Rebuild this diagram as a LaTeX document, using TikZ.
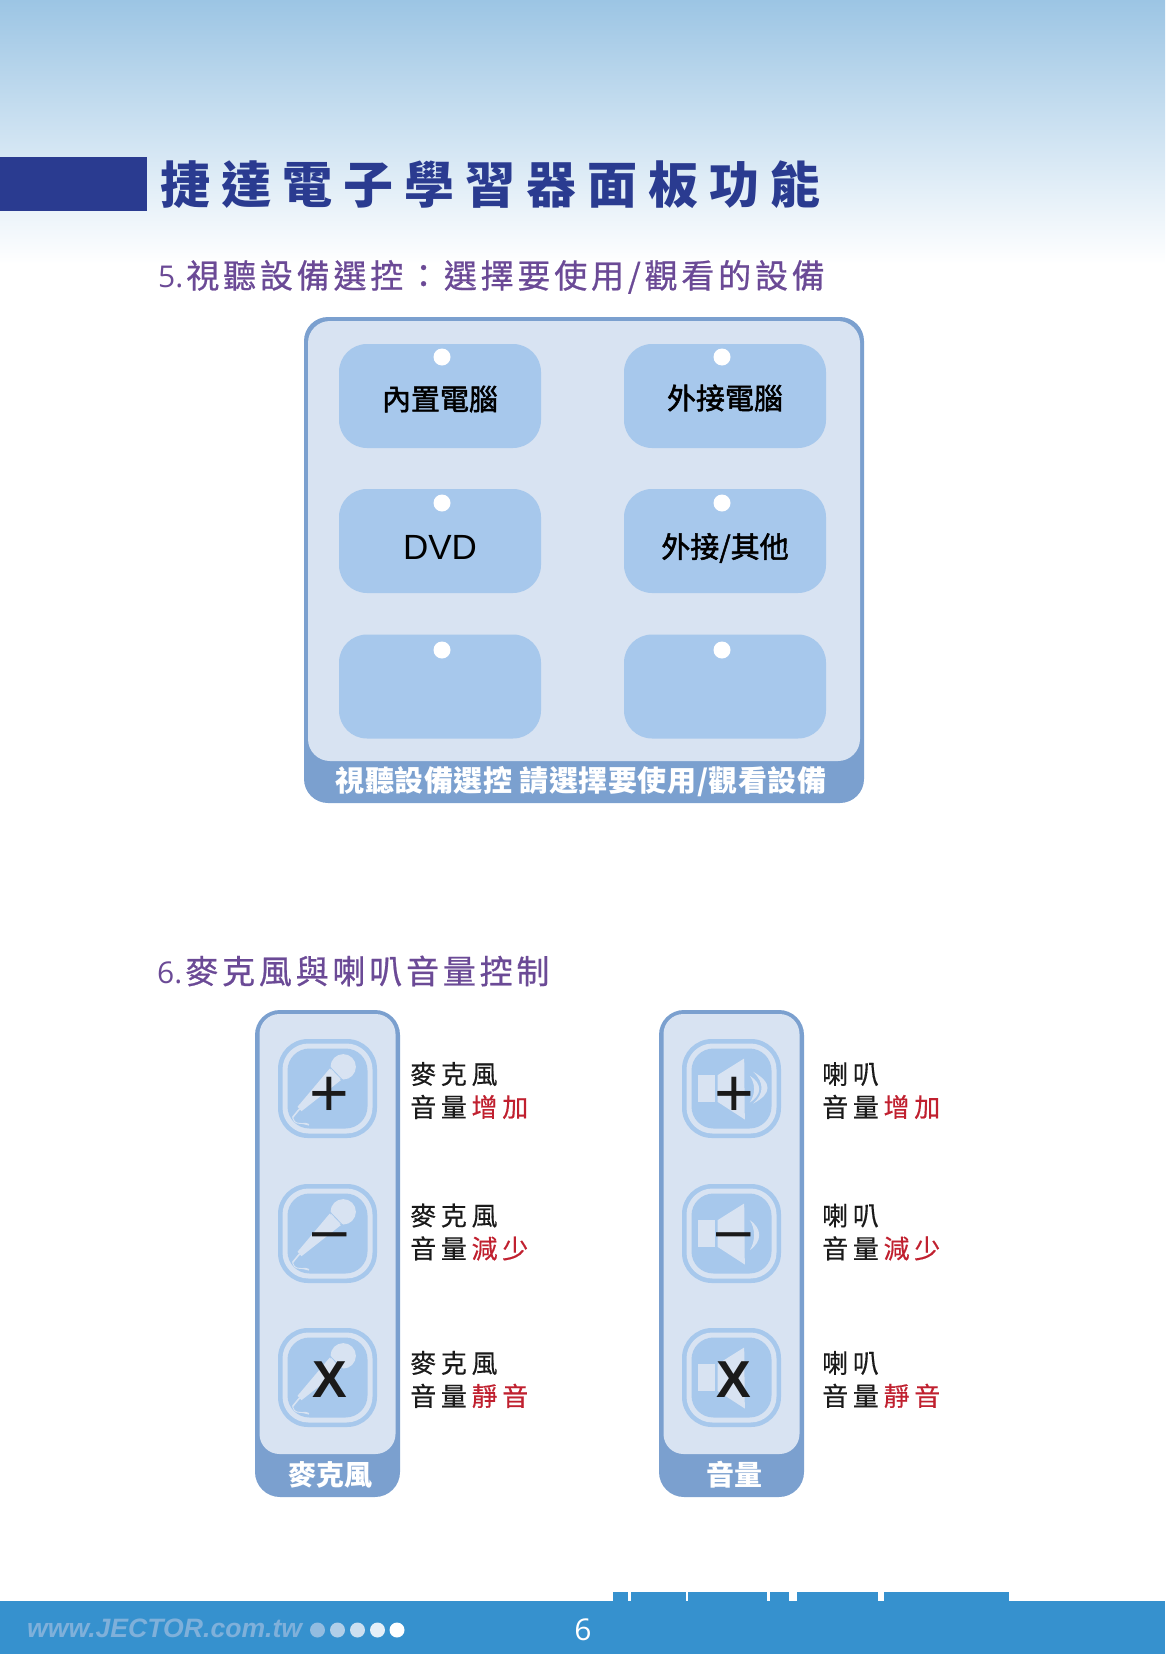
\documentclass[tikz,border=0pt]{standalone}
\usepackage{fontspec}
\setmainfont{Liberation Sans}
\newfontfamily\cjk{Noto Sans CJK TC}
\newfontfamily\latinsym{Open Sans}
\definecolor{skytop}{HTML}{9CC5E4}
\definecolor{barblue}{HTML}{2A3B90}
\definecolor{headpurple}{HTML}{6B4A96}
\definecolor{rimblue}{HTML}{7BA0CF}
\definecolor{paleblue}{HTML}{D8E3F2}
\definecolor{btnblue}{HTML}{A7C8EC}
\definecolor{footblue}{HTML}{3691CE}
\definecolor{urlblue}{HTML}{7FB0DA}
\definecolor{redword}{HTML}{C0202F}
\definecolor{inkblack}{HTML}{1A1A1A}

\tikzset{
  panelbtn/.style={fill=btnblue, rounded corners=28, minimum width=202, minimum height=104, inner sep=0},
  btntext/.style={text=black, inner sep=0, font=\cjk\fontsize{29}{29}\selectfont\addfontfeature{FakeBold=1.8}},
  btndot/.style={fill=white, circle, minimum size=17, inner sep=0},
  rimtext/.style={text=white, inner sep=0, font=\cjk\bfseries\fontsize{28}{28}\selectfont},
  heading/.style={text=headpurple, anchor=west, inner sep=0, font=\cjk\fontsize{33}{33}\selectfont\addfontfeature{LetterSpace=11.5,FakeBold=0.7}},
  sidetext/.style={text=inkblack, anchor=west, inner sep=0, align=left, font=\cjk\fontsize{26}{33}\selectfont\addfontfeature{LetterSpace=18,FakeBold=0.4}},
  pale/.style={fill=paleblue},
  signtext/.style={text=inkblack, inner sep=0}
}

% number in front of a heading
\newcommand{\headnum}[1]{{\latinsym\fontsize{30}{30}\selectfont #1}\kern3pt}
% icon frame: three nested squares
\newcommand{\iconframe}{
  \fill[btnblue, rounded corners=30] (-49.5,-49.5) rectangle (49.5,49.5);
  \fill[paleblue, rounded corners=26] (-45,-45) rectangle (45,45);
  \fill[btnblue, rounded corners=22] (-40,-40) rectangle (40,40);
}
\newcommand{\micicon}{
  \fill[pale] (15.7,-21.7) circle (12.7);
  \fill[pale] (2.3,-20) -- (13.3,-8.3) -- (-26,22.7) -- (-30,18.3) -- cycle;
  \draw[btnblue, line width=0.8] (2.5,-21.5) -- (15,-8.5);
  \draw[paleblue, line width=1.6] (-28,20.5) -- (-35,29);
  \draw[paleblue, line width=0.9] (-35,29) -- (-33,33) .. controls (-30,36) and (-26,34) .. (-21,36) .. controls (-17,38) and (-18,34) .. (-25,35);
}
\newcommand{\spkicon}{
  \fill[pale] (-34,-13.3) rectangle (-16.7,13.3);
  \fill[pale] (-14,-13.3) -- (12.7,-30) -- (13.3,31) -- (-14,13.3) -- cycle;
}

\begin{document}
\begin{tikzpicture}[x=1pt,y=-1pt]
  \useasboundingbox (0,0) rectangle (1165,1654);

  % top of the page
  \shade[top color=skytop, bottom color=white] (0,0) rectangle (1165,264);
  \fill[barblue] (0,157) rectangle (147,211);
  \node[text=barblue, anchor=west, inner sep=0, font=\cjk\bfseries\fontsize{50}{50}\selectfont\addfontfeature{LetterSpace=22.1}] (title) at (160,185) {捷達電子學習器面板功能};
  \node[heading] (headfive) at (158,277) {\headnum{5.}視聽設備選控：選擇要使用/觀看的設備};

  % source panel
  \fill[rimblue, rounded corners=24] (304,317) rectangle (864,803);
  \fill[paleblue, rounded corners=22] (308,321) rectangle (860,761);
  \node[panelbtn] (btnpc) at (440,396) {};
  \node[panelbtn] (btnext) at (725,396) {};
  \node[panelbtn] (btndvd) at (440,541) {};
  \node[panelbtn] (btnother) at (725,541) {};
  \node[panelbtn] (btnfive) at (440,686.5) {};
  \node[panelbtn] (btnsix) at (725,686.5) {};
  \foreach \x in {442,722}
    \foreach \y in {357,503,650}
      \node[btndot] at (\x,\y) {};
  \node[btntext] (txtpc) at (440,399) {內置電腦};
  \node[btntext] (txtext) at (725,398) {外接電腦};
  \node[text=black, inner sep=0, font=\fontsize{35}{35}\selectfont] (txtdvd) at (440,547) {DVD};
  \node[btntext] (txtother) at (725,548) {外接/其他};
  \node[rimtext, font=\cjk\bfseries\fontsize{29}{29}\selectfont\addfontfeature{LetterSpace=2}] (paneltext) at (581,782) {視聽設備選控 請選擇要使用/觀看設備};

  \node[heading] (headsix) at (157,971) {\headnum{6.}麥克風與喇叭音量控制};

  % the two columns
  \foreach \x/\txt in {327.5/麥克風,731.5/音量}{
    \fill[rimblue, rounded corners=25] (\x-72.5,1010) rectangle (\x+72.5,1497);
    \fill[paleblue, rounded corners=20] (\x-68,1014) rectangle (\x+68,1454);
    \node[rimtext] at (\x+3,1475) {\txt};
  }

  \foreach \y in {1088.5,1233.5,1377.5}{
    \begin{scope}[shift={(327.5,\y)}]
      \iconframe
      \micicon
    \end{scope}
    \begin{scope}[shift={(731.5,\y)}]
      \iconframe
      \spkicon
    \end{scope}
  }

  % sound waves on the speaker icons
  \begin{scope}[shift={(731.5,1088.5)}]
    \fill[pale] (21.7,-16.7) .. controls (40.8,-6) and (40.8,5) .. (21.7,15) .. controls (32.8,5) and (32.8,-6) .. (21.7,-16.7) -- cycle;
    \fill[pale] (18.3,-12.7) .. controls (30.8,-5) and (30.8,6) .. (18.3,14) .. controls (24,6) and (24,-5) .. (18.3,-12.7) -- cycle;
  \end{scope}
  \begin{scope}[shift={(731.5,1233.5)}]
    \fill[pale] (18.3,-13.3) .. controls (30.8,-5) and (30.8,8) .. (18.3,16.7) .. controls (24,8) and (24,-5) .. (18.3,-13.3) -- cycle;
  \end{scope}

  % signs
  \foreach \x in {329.5,734}{
    \node[signtext, font=\fontsize{68}{68}\selectfont] at (\x,1096.5) {+};
    \node[signtext, anchor=base, font=\fontsize{62}{62}\selectfont] at (\x,1250) {–};
    \node[signtext, font=\bfseries\fontsize{52}{52}\selectfont] at (\x,1380) {X};
  }

  % side labels
  \foreach \x/\w in {410/麥克風,822/喇叭}
    \foreach \y/\r in {1090.5/增加,1232/減少,1379.5/靜音}
      \node[sidetext] at (\x,\y) {\w\\音量\kern4.7pt{\color{redword}\r}};

  % foot of the page
  \fill[footblue] (0,1601) rectangle (1165,1654);
  \foreach \a/\b in {613/628,631/686,688/767,770/789,797/878,884/1009}
    \fill[footblue] (\a,1592) rectangle (\b,1601);
  \node[text=urlblue, anchor=west, inner sep=0, font=\bfseries\itshape\fontsize{26.6}{26.6}\selectfont] (url) at (27,1628) {www.JECTOR.com.tw};
  \foreach \x/\c in {317.5/15,337.5/38,357.5/60,377.5/80,397/100}
    \fill[white!\c!urlblue] (\x,1630) circle (7.5);
  \node[text=white, inner sep=0, font=\latinsym\fontsize{30}{30}\selectfont] (pagenum) at (583,1630) {6};
\end{tikzpicture}
\end{document}
